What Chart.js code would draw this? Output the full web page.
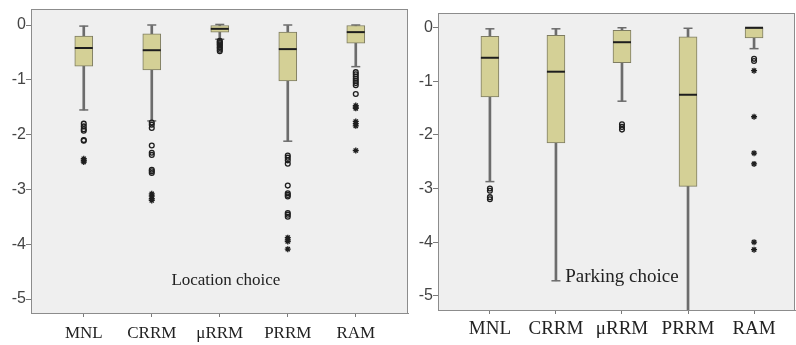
<!DOCTYPE html>
<html>
<head>
<meta charset="utf-8">
<script src="https://cdn.jsdelivr.net/npm/chart.js@4.4.1/dist/chart.umd.min.js"></script>
<style>
  html, body { margin: 0; padding: 0; background: #fff; }
  #wrap { position: relative; width: 796px; height: 345px; overflow: hidden; }
  canvas { position: absolute; top: 0; }
  #c1 { left: 0; }
  #c2 { left: 400px; }
</style>
</head>
<body>
<div id="wrap">
  <canvas id="c1" width="410" height="345"></canvas>
  <canvas id="c2" width="396" height="345"></canvas>
</div>
<script>
// Models compared in both panels
const categories = ['MNL', 'CRRM', 'μRRM', 'PRRM', 'RAM'];
const yTicks = [0, -1, -2, -3, -4, -5];

// Location choice: five-number summaries per model
const locWhiskerHigh = [-0.02, 0.0, 0.01, 0.0, 0.0];
const locQ3          = [-0.20, -0.16, 0.0, -0.13, 0.0];
const locMedian      = [-0.42, -0.46, -0.07, -0.44, -0.13];
const locQ1          = [-0.75, -0.82, -0.13, -1.02, -0.33];
const locWhiskerLow  = [-1.55, -1.75, -0.26, -2.12, -0.76];
// Location choice: outliers (circles) and extreme values (stars)
const locOutliers = [
  [-1.80, -1.85, -1.90, -1.93, -2.10, -2.11],
  [-1.78, -1.82, -1.88, -2.20, -2.33, -2.37, -2.64, -2.67, -2.70],
  [-0.29, -0.31, -0.33, -0.35, -0.37, -0.40, -0.42, -0.45, -0.48],
  [-2.38, -2.42, -2.47, -2.53, -2.93, -3.07, -3.10, -3.13, -3.43, -3.46, -3.50],
  [-0.86, -0.90, -0.94, -0.98, -1.02, -1.06, -1.10, -1.26]
];
const locExtremes = [
  [-2.44, -2.47, -2.50],
  [-3.08, -3.12, -3.17, -3.20],
  [],
  [-3.88, -3.92, -3.95, -4.09],
  [-1.47, -1.50, -1.52, -1.76, -1.80, -1.84, -2.29]
];

// Parking choice: five-number summaries per model
const parkWhiskerHigh = [-0.02, -0.02, 0.0, -0.01, 0.0];
const parkQ3          = [-0.16, -0.14, -0.05, -0.17, 0.0];
const parkMedian      = [-0.56, -0.82, -0.27, -1.25, 0.0];
const parkQ1          = [-1.29, -2.15, -0.65, -2.96, -0.19];
const parkWhiskerLow  = [-2.87, -4.72, -1.37, -5.60, -0.39];
// Parking choice: outliers (circles) and extreme values (stars)
const parkOutliers = [
  [-3.00, -3.04, -3.16, -3.20],
  [],
  [-1.80, -1.85, -1.90],
  [],
  [-0.58, -0.62]
];
const parkExtremes = [
  [],
  [],
  [],
  [],
  [-0.80, -1.66, -2.34, -2.54, -4.00, -4.14]
];

const plotBg = '#efefef';
const frameColor = '#8c8c8c';
const boxFill = '#d4d096';
const boxEdge = '#7e7c62';
const whiskerColor = '#6c6c6c';
const inkColor = '#1e1e1e';

// Panel background, frame and in-plot caption
const panelDecor = {
  id: 'panelDecor',
  beforeDraw(chart) {
    const { ctx, chartArea: a } = chart;
    ctx.save();
    ctx.fillStyle = plotBg;
    ctx.fillRect(a.left, a.top, a.right - a.left, a.bottom - a.top);
    ctx.restore();
  },
  afterDraw(chart, args, opts) {
    const { ctx, chartArea: a, scales } = chart;
    ctx.save();
    ctx.strokeStyle = frameColor;
    ctx.lineWidth = 1;
    ctx.strokeRect(a.left + 0.5, a.top + 0.5, a.right - a.left - 1, a.bottom - a.top);
    if (opts.text) {
      ctx.font = opts.font;
      ctx.fillStyle = '#222';
      ctx.textAlign = 'center';
      ctx.textBaseline = 'middle';
      ctx.fillText(opts.text, scales.x.getPixelForValue(opts.atX), scales.y.getPixelForValue(opts.atY));
    }
    ctx.restore();
  }
};

function pointsFrom(lists) {
  const pts = [];
  lists.forEach((vals, i) => vals.forEach(v => pts.push({ x: i, y: v })));
  return pts;
}

function makePanel(canvasId, s, cfg) {
  const idx = categories.map((_, i) => i);
  const datasets = [
    {
      type: 'bar', label: 'whisker', order: 5, grouped: false,
      data: idx.map(i => ({ x: i, y: [s.low[i], s.high[i]] })),
      backgroundColor: whiskerColor, borderWidth: 0, barThickness: 2
    },
    {
      type: 'scatter', label: 'caps', order: 4,
      data: pointsFrom(idx.map(i => [s.low[i], s.high[i]])),
      pointStyle: 'line', pointRadius: 4.5, pointBorderWidth: 1.5,
      borderColor: whiskerColor, backgroundColor: whiskerColor
    },
    {
      type: 'bar', label: 'box', order: 3, grouped: false,
      data: idx.map(i => ({ x: i, y: [s.q1[i], s.q3[i]] })),
      backgroundColor: boxFill, borderColor: boxEdge, borderWidth: 1,
      borderSkipped: false, barThickness: 18
    },
    {
      type: 'scatter', label: 'median', order: 2,
      data: idx.map(i => ({ x: i, y: s.med[i] })),
      pointStyle: 'line', pointRadius: 9, pointBorderWidth: 2,
      borderColor: inkColor, backgroundColor: inkColor
    },
    {
      type: 'scatter', label: 'outliers', order: 1,
      data: pointsFrom(s.out),
      pointStyle: 'circle', pointRadius: 2.4, pointBorderWidth: 1.3,
      borderColor: inkColor, backgroundColor: 'rgba(0,0,0,0)'
    },
    {
      type: 'scatter', label: 'extremes', order: 0,
      data: pointsFrom(s.ext),
      pointStyle: 'star', pointRadius: 3, pointBorderWidth: 1.3,
      borderColor: inkColor, backgroundColor: inkColor
    }
  ];

  return new Chart(document.getElementById(canvasId), {
    type: 'bar',
    data: { datasets },
    options: {
      responsive: false,
      animation: false,
      events: [],
      layout: { autoPadding: false, padding: { top: cfg.padTop, right: cfg.padRight, left: 0, bottom: 0 } },
      plugins: {
        legend: { display: false },
        tooltip: { enabled: false },
        panelDecor: { text: cfg.caption, font: cfg.captionFont, atX: cfg.captionX, atY: cfg.captionY }
      },
      scales: {
        x: {
          type: 'linear', min: cfg.xMin, max: cfg.xMax, offset: false,
          afterFit: sc => {
            sc.height = cfg.xHeight;
            sc.paddingLeft = 0;
            sc.paddingRight = 0;
          },
          afterBuildTicks: sc => { sc.ticks = categories.map((_, i) => ({ value: i })); },
          ticks: {
            callback: v => categories[v],
            color: '#222', autoSkip: false, maxRotation: 0, padding: cfg.xPad,
            font: { family: '"Liberation Serif", "Times New Roman", serif', size: cfg.xFont }
          },
          grid: { drawOnChartArea: false, drawTicks: true, tickLength: 4, color: '#7a7a7a', offset: false },
          border: { display: true, color: frameColor }
        },
        y: {
          min: cfg.yMin, max: cfg.yMax,
          afterFit: sc => { sc.width = cfg.yWidth; },
          afterBuildTicks: sc => { sc.ticks = yTicks.map(v => ({ value: v })); },
          ticks: {
            callback: v => String(v),
            color: '#444', padding: 0,
            font: { family: '"Liberation Sans", Arial, sans-serif', size: 16, lineHeight: 1 }
          },
          grid: { drawOnChartArea: false, drawTicks: true, tickLength: 5, color: '#7a7a7a' },
          border: { display: true, color: frameColor }
        }
      }
    },
    plugins: [panelDecor]
  });
}

makePanel('c1', {
  high: locWhiskerHigh, q3: locQ3, med: locMedian, q1: locQ1, low: locWhiskerLow,
  out: locOutliers, ext: locExtremes
}, {
  padTop: 9, padRight: 2, yWidth: 31, xHeight: 32,
  yMin: -5.255, yMax: 0.292, xMin: -0.776, xMax: 4.768,
  xFont: 17, xPad: 6,
  caption: 'Location choice', captionFont: '17px "Liberation Serif", serif', captionX: 2.09, captionY: -4.67
});

makePanel('c2', {
  high: parkWhiskerHigh, q3: parkQ3, med: parkMedian, q1: parkQ1, low: parkWhiskerLow,
  out: parkOutliers, ext: parkExtremes
}, {
  padTop: 13, padRight: 1, yWidth: 38, xHeight: 35,
  yMin: -5.265, yMax: 0.275, xMin: -0.786, xMax: 4.62,
  xFont: 19, xPad: 4,
  caption: 'Parking choice', captionFont: '19px "Liberation Serif", serif', captionX: 2.0, captionY: -4.65
});
</script>
</body>
</html>
